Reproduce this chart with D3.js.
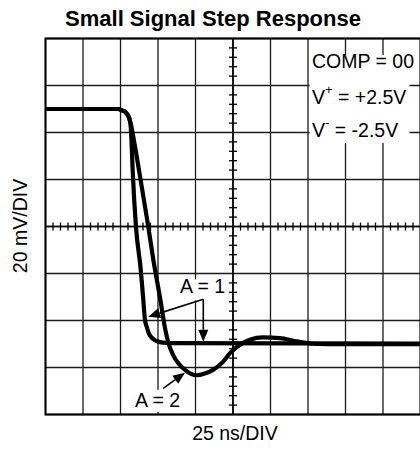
<!DOCTYPE html>
<html>
<head>
<meta charset="utf-8">
<script src="https://cdn.jsdelivr.net/npm/d3@7"></script>
<style>
  html, body { margin: 0; padding: 0; background: #fff; }
  svg { display: block; }
  text { font-family: "Liberation Sans", Arial, Helvetica, sans-serif; fill: #000; }
</style>
</head>
<body>
<script>
// ---- data ----
const timeA1 = [0, 48.3, 51, 53.7, 55.7, 56.7, 57.3, 58.1, 60.3, 63.5, 65.2, 66.3, 67.5, 68.7, 70.3, 73, 77, 83, 250];
const voltA1 = [50, 50, 49.4, 48.4, 46.3, 43.3, 36.9, 24.1, 0, -18.4, -31.2, -39.7, -42.7, -45.2, -46.9, -48.4, -49.3, -49.6, -49.8];
const timeA2 = [0, 48.3, 51, 53.7, 55.7, 57.0, 58.3, 60.3, 62.5, 68.5, 71.9, 76.6, 79.9, 82.3, 85, 88.3, 93, 97, 101, 105.7, 111.7, 118.3, 123, 129.7, 136.3, 145, 156.3, 167.7, 181, 196.3, 250];
const voltA2 = [50, 50, 49.4, 48.4, 46.3, 43.3, 39.0, 31.8, 23.3, 0, -14.2, -31.2, -44.0, -50.3, -54.6, -58.0, -61.0, -62.7, -63.3, -62.7, -61.0, -57.6, -53.9, -50.3, -48.2, -47.2, -47.5, -48.9, -50.0, -50.1, -50.1];
const xMajorTicks = [0, 25, 50, 75, 100, 125, 150, 175, 200, 225, 250];
const yMajorTicks = [-80, -60, -40, -20, 0, 20, 40, 60, 80];
const titleText = "Small Signal Step Response";
const xLabel = "25 ns/DIV";
const yLabel = "20 mV/DIV";

const W = 420, H = 449;
const svg = d3.select("body").append("svg").attr("width", W).attr("height", H);

const x = d3.scaleLinear().domain([0, 250]).range([45.5, 420.5]);
const y = d3.scaleLinear().domain([-80, 80]).range([414.5, 38.5]);

// grid
const g = svg.append("g");
g.selectAll(".vg").data(xMajorTicks).join("line")
  .attr("x1", d => x(d)).attr("x2", d => x(d))
  .attr("y1", y(80)).attr("y2", y(-80))
  .attr("stroke", "#1a1a1a").attr("stroke-width", 1.3);
g.selectAll(".hg").data(yMajorTicks).join("line")
  .attr("x1", x(0)).attr("x2", x(250))
  .attr("y1", d => y(d)).attr("y2", d => y(d))
  .attr("stroke", "#1a1a1a").attr("stroke-width", 1.3);

// minor ticks on center axes
const xMinor = d3.range(0, 250.01, 5).filter(d => d % 25 !== 0);
const yMinor = d3.range(-80, 80.01, 4).filter(d => d % 20 !== 0);
g.selectAll(".xm").data(xMinor).join("line")
  .attr("x1", d => x(d)).attr("x2", d => x(d))
  .attr("y1", y(0) - 4).attr("y2", y(0) + 4)
  .attr("stroke", "#000").attr("stroke-width", 1.3);
g.selectAll(".ym").data(yMinor).join("line")
  .attr("x1", x(125) - 4).attr("x2", x(125) + 4)
  .attr("y1", d => y(d)).attr("y2", d => y(d))
  .attr("stroke", "#000").attr("stroke-width", 1.3);
g.append("line").attr("x1", x(0)).attr("x2", x(250)).attr("y1", y(0)).attr("y2", y(0))
  .attr("stroke", "#000").attr("stroke-width", 1.6);
g.append("line").attr("x1", x(125)).attr("x2", x(125)).attr("y1", y(80)).attr("y2", y(-80))
  .attr("stroke", "#000").attr("stroke-width", 1.6);

// frame
g.append("rect").attr("x", x(0)).attr("y", y(80))
  .attr("width", x(250) - x(0)).attr("height", y(-80) - y(80))
  .attr("fill", "none").attr("stroke", "#000").attr("stroke-width", 2);

// white text backgrounds
svg.append("rect").attr("x", 309.5).attr("y", 55).attr("width", 100).attr("height", 88).attr("fill", "#fff");
svg.append("rect").attr("x", x(88.5)).attr("y", y(-22.5)).attr("width", 49).attr("height", 21).attr("fill", "#fff");
svg.append("rect").attr("x", x(58.5)).attr("y", y(-69.5)).attr("width", 51).attr("height", 22).attr("fill", "#fff");

// curves
const line = d3.line().x(d => x(d[0])).y(d => y(d[1])).curve(d3.curveMonotoneX);
const dA1 = timeA1.map((t, i) => [t, voltA1[i]]);
const dA2 = timeA2.map((t, i) => [t, voltA2[i]]);
svg.append("path").attr("d", line(dA2)).attr("fill", "none").attr("stroke", "#000")
  .attr("stroke-width", 4.2).attr("stroke-linejoin", "round");
svg.append("path").attr("d", line(dA1)).attr("fill", "none").attr("stroke", "#000")
  .attr("stroke-width", 4.2).attr("stroke-linejoin", "round");

// arrows
function arrow(x0, y0, x1, y1) {
  const dx = x1 - x0, dy = y1 - y0, len = Math.hypot(dx, dy);
  const ux = dx / len, uy = dy / len;
  const L = 12, Wd = 5;
  const bx = x1 - ux * L, by = y1 - uy * L;
  svg.append("line").attr("x1", x0).attr("y1", y0).attr("x2", bx).attr("y2", by)
    .attr("stroke", "#000").attr("stroke-width", 1.6);
  svg.append("path")
    .attr("d", `M${x1},${y1}L${bx - uy * Wd},${by + ux * Wd}L${bx + uy * Wd},${by - ux * Wd}Z`)
    .attr("fill", "#000");
}
arrow(x(105.2), y(-31.0), x(68.5), y(-38.4));
arrow(x(105.2), y(-31.0), x(105.2), y(-49.0));
arrow(x(78.5), y(-68.9), x(93), y(-62.2));

// annotation texts
const fs = 19.5;
svg.append("text").attr("x", x(89.7)).attr("y", y(-28.3)).attr("font-size", fs).text("A = 1");
svg.append("text").attr("x", x(59.7)).attr("y", y(-76.8)).attr("font-size", fs).text("A = 2");

svg.append("text").attr("x", 312).attr("y", 68).attr("font-size", fs).text("COMP = 00");
const t2 = svg.append("text").attr("x", 312).attr("y", 103.5).attr("font-size", fs);
t2.append("tspan").text("V");
t2.append("tspan").attr("font-size", 13).attr("dy", -10).text("+");
t2.append("tspan").attr("dy", 10).text(" = +2.5V");
const t3 = svg.append("text").attr("x", 312).attr("y", 137).attr("font-size", fs);
t3.append("tspan").text("V");
t3.append("tspan").attr("font-size", 13).attr("dy", -10).text("-");
t3.append("tspan").attr("dy", 10).text(" = -2.5V");

// title and axis labels
svg.append("text").attr("x", 213).attr("y", 26).attr("text-anchor", "middle")
  .attr("font-size", 22).attr("font-weight", "bold").text(titleText);
svg.append("text").attr("x", 235).attr("y", 440).attr("text-anchor", "middle")
  .attr("font-size", fs).text(xLabel);
svg.append("text").attr("transform", "translate(27,226) rotate(-90)").attr("text-anchor", "middle")
  .attr("font-size", fs).text(yLabel);
</script>
</body>
</html>
